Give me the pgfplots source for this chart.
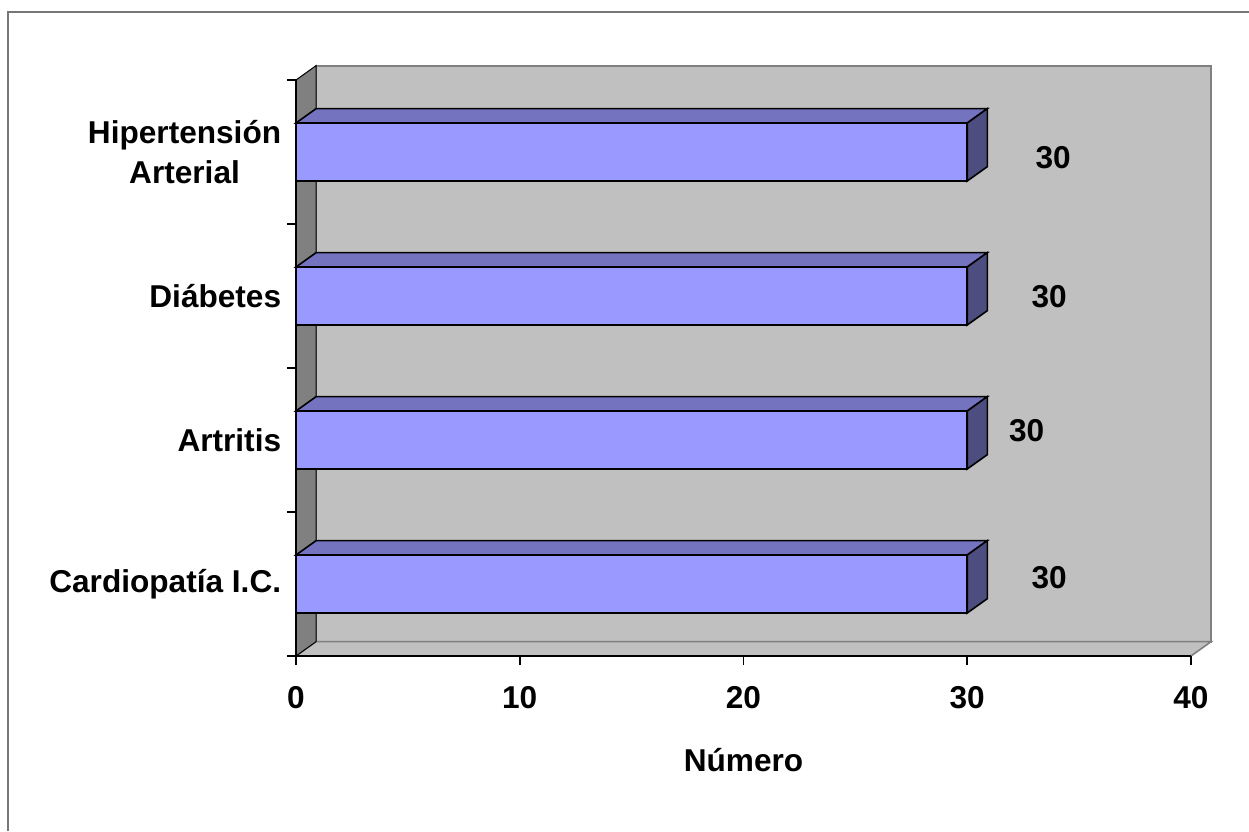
\documentclass[border=0pt]{standalone}
\usepackage{fontspec}
\setmainfont{Liberation Sans}
\usepackage{pgfplots}
\pgfplotsset{compat=1.18}

\definecolor{barfront}{HTML}{9999FF}
\definecolor{bartop}{HTML}{7373BF}
\definecolor{barside}{HTML}{4D4D80}
\definecolor{wall}{HTML}{C0C0C0}
\definecolor{wallside}{HTML}{808080}
\definecolor{frameline}{HTML}{777777}
\newcommand{\chartfont}{\bfseries\fontsize{15.8}{20}\selectfont}

\begin{document}
\begin{tikzpicture}
\begin{axis}[
  at={(0,0)}, anchor=south west,
  scale only axis, width=447.5pt, height=288pt,
  xmin=0, xmax=40, ymin=0, ymax=4,
  enlargelimits=false, clip=false,
  axis x line*=bottom, axis y line*=left,
  axis line style={black, line width=0.8pt},
  axis on top,
  tick align=outside, major tick length=4.5pt,
  tick style={black, line width=0.8pt},
  xtick={0,10,20,30,40},
  ytick={0,1,2,3,4}, yticklabels={},
  extra y ticks={0.5,1.5,2.5,3.5},
  extra y tick labels={Cardiopatía I.C., Artritis, Diábetes, {Hipertensión\\Arterial}},
  extra y tick style={major tick length=0pt},
  /pgf/number format/assume math mode=true,
  every tick label/.append style={font=\chartfont, black},
  xticklabel style={yshift=-7pt},
  yticklabel style={align=center, xshift=-3.9pt},
  xlabel={Número},
  xlabel style={at={(axis description cs:0.5,0)}, anchor=north, yshift=-42.5pt, font=\chartfont},
]

% back wall, floor and left side wall of the 3-D frame
\addplot[no markers, fill=wall, draw=wallside, line width=1pt]
  coordinates {(0.9,0.1) (40.9,0.1) (40.9,4.1) (0.9,4.1)} -- cycle;
\addplot[no markers, fill=wall, draw=wallside, line width=0.8pt]
  coordinates {(0,0) (40,0) (40.9,0.1) (0.9,0.1)} -- cycle;
\addplot[no markers, fill=wallside, draw=black, line width=0.5pt]
  coordinates {(0,0) (0.9,0.1) (0.9,4.1) (0,4)} -- cycle;

% front faces of the bars, with their value labels
\addplot[xbar, bar width=0.4028, fill=barfront, draw=black, line width=0.8pt,
  nodes near coords, point meta=x,
  visualization depends on={\thisrow{dx} \as \labdx},
  visualization depends on={\thisrow{dy} \as \labdy},
  every node near coord/.append style={anchor=center, xshift=\labdx pt, yshift=\labdy pt,
    font=\chartfont, black, /pgf/number format/assume math mode=true}]
  table {
  x   y    dx     dy
  30  0.5  41     3.25
  30  1.5  29.75  4.5
  30  2.5  41    -0.25
  30  3.5  43    -2.75
  };

% top and right faces of each bar
\addplot[no markers, fill=bartop, draw=black, line width=0.8pt]
  coordinates {(0,0.7014) (30,0.7014) (30.9,0.8014) (0.9,0.8014)} -- cycle;
\addplot[no markers, fill=barside, draw=black, line width=0.8pt]
  coordinates {(30,0.2986) (30.9,0.3986) (30.9,0.8014) (30,0.7014)} -- cycle;

\addplot[no markers, fill=bartop, draw=black, line width=0.8pt]
  coordinates {(0,1.7014) (30,1.7014) (30.9,1.8014) (0.9,1.8014)} -- cycle;
\addplot[no markers, fill=barside, draw=black, line width=0.8pt]
  coordinates {(30,1.2986) (30.9,1.3986) (30.9,1.8014) (30,1.7014)} -- cycle;

\addplot[no markers, fill=bartop, draw=black, line width=0.8pt]
  coordinates {(0,2.7014) (30,2.7014) (30.9,2.8014) (0.9,2.8014)} -- cycle;
\addplot[no markers, fill=barside, draw=black, line width=0.8pt]
  coordinates {(30,2.2986) (30.9,2.3986) (30.9,2.8014) (30,2.7014)} -- cycle;

\addplot[no markers, fill=bartop, draw=black, line width=0.8pt]
  coordinates {(0,3.7014) (30,3.7014) (30.9,3.8014) (0.9,3.8014)} -- cycle;
\addplot[no markers, fill=barside, draw=black, line width=0.8pt]
  coordinates {(30,3.2986) (30.9,3.3986) (30.9,3.8014) (30,3.7014)} -- cycle;
\end{axis}

% chart area border (top and left edges)
\draw[frameline, line width=1pt] (-144pt,-87.5pt) -- (-144pt,322pt) -- (476.5pt,322pt);
\pgfresetboundingbox
\path[use as bounding box] (-148pt,-87.5pt) rectangle (476.5pt,328pt);
\end{tikzpicture}
\end{document}
